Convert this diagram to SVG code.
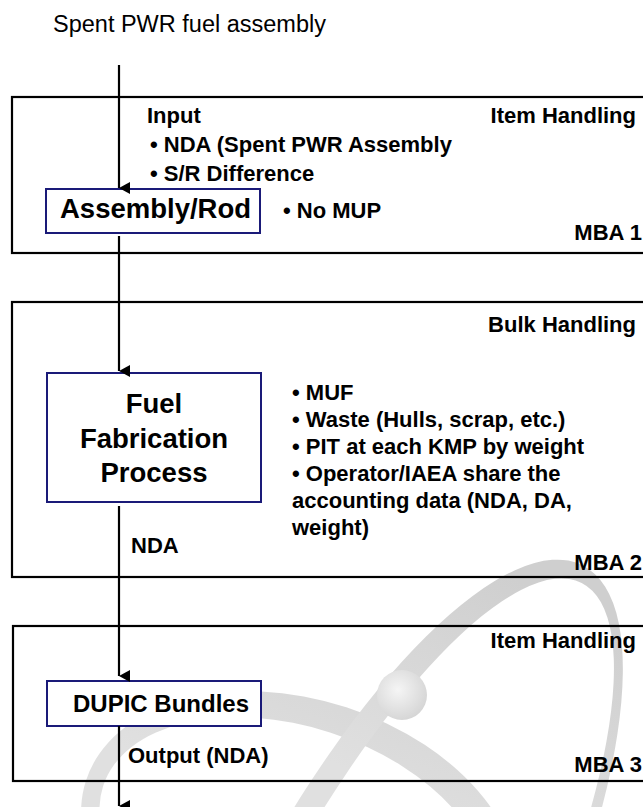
<svg xmlns="http://www.w3.org/2000/svg" width="643" height="807" viewBox="0 0 643 807">
  <defs>
    <linearGradient id="orbitFill" gradientUnits="userSpaceOnUse" x1="0" y1="560" x2="0" y2="807">
      <stop offset="0" stop-color="#cfcfcf"/>
      <stop offset="1" stop-color="#e0e0e0"/>
    </linearGradient>
    <radialGradient id="sphereFill" cx="0.42" cy="0.4" r="0.65">
      <stop offset="0" stop-color="#f5f5f5"/>
      <stop offset="1" stop-color="#d4d4d4"/>
    </radialGradient>
    <marker id="arrowHead" viewBox="0 0 12 11" refX="6" refY="11" markerWidth="12" markerHeight="11" markerUnits="userSpaceOnUse" orient="auto-start-reverse">
      <path d="M0,0 L12,0 L6,11 Z" fill="#000"/>
    </marker>
  </defs>
  <style>
    .mba { fill: none; stroke: #000; stroke-width: 2.2; }
    .node { fill: #fff; stroke: #1a1a78; stroke-width: 2; }
    .t { font-family: "Liberation Sans", Arial, sans-serif; font-weight: bold; font-size: 22px; fill: #000; }
    .big { font-size: 27.5px; }
    .mid { font-size: 24px; }
    .end { text-anchor: end; }
    .mid-anchor { text-anchor: middle; }
    .edge { stroke: #000; stroke-width: 2.2; fill: none; marker-end: url(#arrowHead); }
    .orbit { fill: url(#orbitFill); fill-rule: evenodd; }
  </style>

  <rect width="643" height="807" fill="#fff"/>

  <!-- atom emblem in the background -->
  <g id="emblem">
    <g transform="rotate(18 300 850)">
      <path class="orbit" d="M75,850 A225,150 0 1,0 525,850 A225,150 0 1,0 75,850 Z M93,850 A200,121 0 1,0 493,850 A200,121 0 1,0 93,850 Z"/>
    </g>
    <g transform="rotate(27 377 977)">
      <path class="orbit" d="M221.5,977 A152,460 0 1,0 525.5,977 A152,460 0 1,0 221.5,977 Z M247.5,977 A133,444 0 1,0 513.5,977 A133,444 0 1,0 247.5,977 Z"/>
    </g>
    <circle cx="402" cy="695" r="25" fill="url(#sphereFill)"/>
  </g>

  <!-- material balance areas -->
  <g id="mba1">
    <rect class="mba" x="12" y="97" width="660" height="156"/>
    <text class="t" x="147" y="123">Input</text>
    <text class="t end" x="636" y="123">Item Handling</text>
    <text class="t" x="150" y="152">• NDA (Spent PWR Assembly</text>
    <text class="t" x="150" y="181">• S/R Difference</text>
    <text class="t" x="283" y="218">• No MUP</text>
    <text class="t end" x="642" y="240">MBA 1</text>
  </g>
  <g id="mba2">
    <rect class="mba" x="12" y="302" width="660" height="275"/>
    <text class="t end" x="636" y="332">Bulk Handling</text>
    <text class="t" x="292" y="400">• MUF</text>
    <text class="t" x="292" y="427">• Waste (Hulls, scrap, etc.)</text>
    <text class="t" x="292" y="454">• PIT at each KMP by weight</text>
    <text class="t" x="292" y="481">• Operator/IAEA share the</text>
    <text class="t" x="292" y="508">accounting data (NDA, DA,</text>
    <text class="t" x="292" y="535">weight)</text>
    <text class="t" x="131" y="553">NDA</text>
    <text class="t end" x="642" y="570">MBA 2</text>
  </g>
  <g id="mba3">
    <rect class="mba" x="13" y="626" width="660" height="155"/>
    <text class="t end" x="636" y="648">Item Handling</text>
    <text class="t" x="128" y="763">Output (NDA)</text>
    <text class="t end" x="642" y="772">MBA 3</text>
  </g>

  <!-- process nodes -->
  <g id="assembly-rod">
    <rect class="node" x="46" y="189" width="214" height="44"/>
    <text class="t big" x="60" y="218">Assembly/Rod</text>
  </g>
  <g id="fuel-fabrication">
    <rect class="node" x="47" y="373" width="214" height="129"/>
    <text class="t big mid-anchor" x="154" y="413">Fuel</text>
    <text class="t big mid-anchor" x="154" y="448">Fabrication</text>
    <text class="t big mid-anchor" x="154" y="482">Process</text>
  </g>
  <g id="dupic-bundles">
    <rect class="node" x="47" y="681" width="214" height="45"/>
    <text class="t mid" x="73" y="712">DUPIC Bundles</text>
  </g>

  <!-- incoming material label -->
  <text x="53" y="32" font-family="'Liberation Sans', Arial, sans-serif" font-size="23.5" fill="#000">Spent PWR fuel assembly</text>

  <!-- flow connectors -->
  <g id="connectors">
    <line class="edge" x1="119" y1="65" x2="119" y2="188"/>
    <line class="edge" x1="119" y1="236" x2="119" y2="371"/>
    <line class="edge" x1="119" y1="506" x2="119" y2="676"/>
    <line class="edge" x1="119" y1="726" x2="119" y2="806"/>
  </g>
</svg>
